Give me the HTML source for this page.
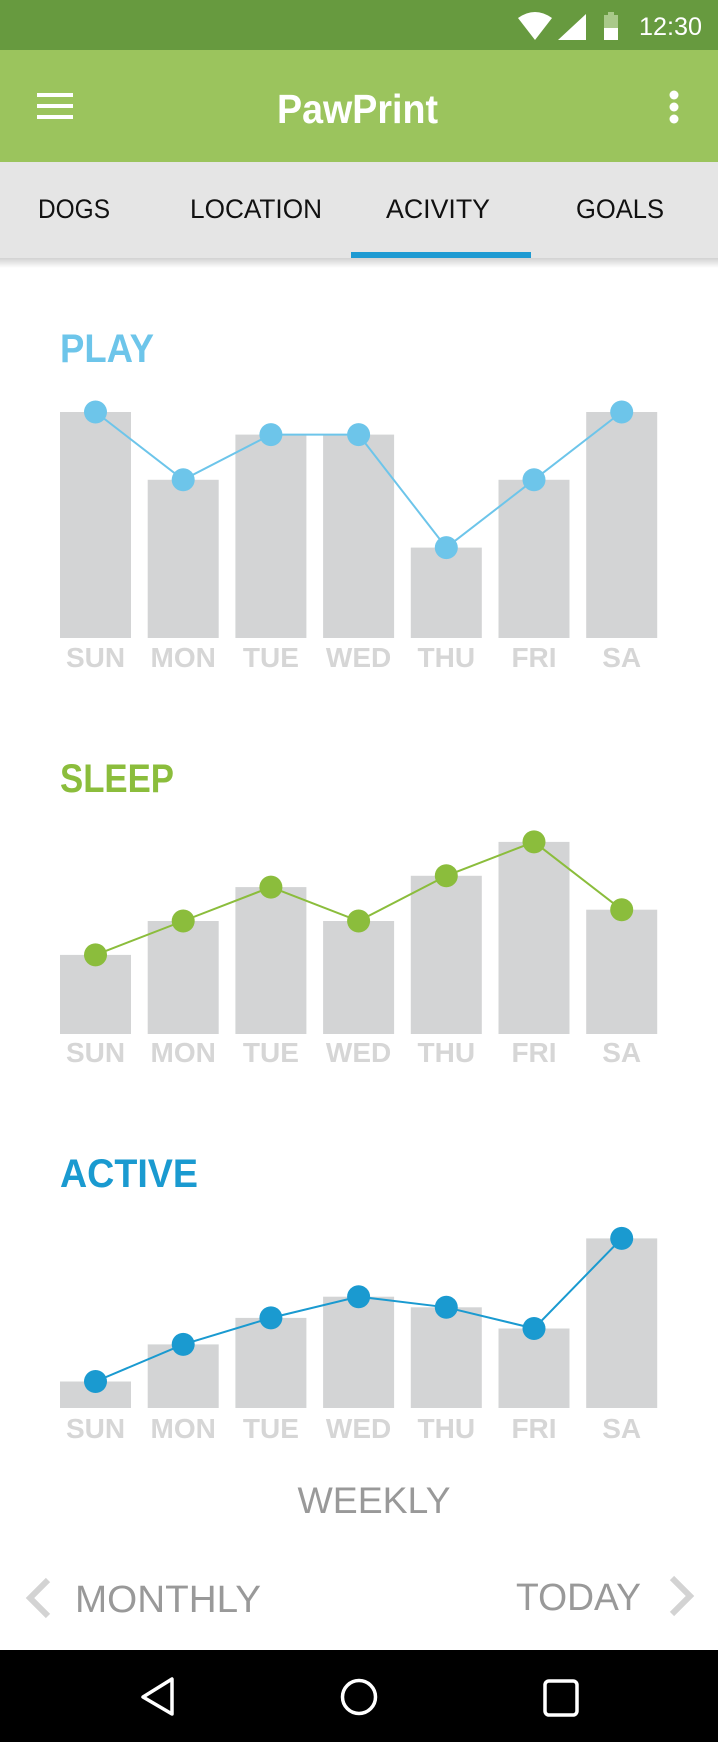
<!DOCTYPE html>
<html><head><meta charset="utf-8"><style>
html,body{margin:0;padding:0;background:#fff;}
svg{display:block;font-family:"Liberation Sans",sans-serif;}
</style></head><body>
<svg id="root" width="718" height="1742" viewBox="0 0 718 1742">
  <defs>
    <linearGradient id="sh" x1="0" y1="0" x2="0" y2="1"><stop offset="0" stop-color="#000" stop-opacity="0.18"/><stop offset="1" stop-color="#000" stop-opacity="0"/></linearGradient>
  </defs>
  <rect x="0" y="0" width="718" height="50" fill="#679a3f"/>
  <g>
    <path d="M518 18 Q535 6 552 18 L535 40 Z" fill="#fff"/>
    <path d="M586 14 L586 40 L558 40 Z" fill="#fff"/>
    <rect x="604" y="15" width="14" height="25" fill="#a9c98a"/>
    <rect x="604" y="28" width="14" height="12" fill="#fff"/>
    <rect x="608" y="12" width="6" height="3" fill="#a9c98a"/>
    <text x="639" y="35" font-size="25" fill="#fff" textLength="63" lengthAdjust="spacingAndGlyphs">12:30</text>
  </g>
  <rect x="0" y="50" width="718" height="112" fill="#9bc45d"/>
  <g>
    <rect x="37" y="93" width="36" height="4" fill="#fff"/><rect x="37" y="104" width="36" height="4" fill="#fff"/><rect x="37" y="115" width="36" height="4" fill="#fff"/>
  </g>
  <text x="277" y="123" font-size="41" font-weight="bold" fill="#fff" textLength="161" lengthAdjust="spacingAndGlyphs">PawPrint</text>
  <g>
    <circle cx="674" cy="95" r="4.5" fill="#fff"/><circle cx="674" cy="107" r="4.5" fill="#fff"/><circle cx="674" cy="119" r="4.5" fill="#fff"/>
  </g>
  <rect x="0" y="162" width="718" height="96" fill="#e5e5e5"/>
  <rect x="0" y="258" width="718" height="10" fill="url(#sh)"/>
  <text x="38" y="218" font-size="27" fill="#111" textLength="72" lengthAdjust="spacingAndGlyphs">DOGS</text>
  <text x="190" y="218" font-size="27" fill="#111" textLength="132" lengthAdjust="spacingAndGlyphs">LOCATION</text>
  <text x="386" y="218" font-size="27" fill="#111" textLength="104" lengthAdjust="spacingAndGlyphs">ACIVITY</text>
  <text x="576" y="218" font-size="27" fill="#111" textLength="88" lengthAdjust="spacingAndGlyphs">GOALS</text>
  <rect x="351" y="252" width="180" height="6" fill="#1e9ad2"/>
  <g id="charts"></g>
  <text x="374" y="1513" font-size="37" fill="#999" text-anchor="middle" textLength="153" lengthAdjust="spacingAndGlyphs">WEEKLY</text>
  <path d="M48 1580 L30 1598 L48 1616" fill="none" stroke="#d3d3d3" stroke-width="6"/>
  <text x="75" y="1612" font-size="38" fill="#999" textLength="186" lengthAdjust="spacingAndGlyphs">MONTHLY</text>
  <text x="516" y="1610" font-size="38" fill="#999" textLength="125" lengthAdjust="spacingAndGlyphs">TODAY</text>
  <path d="M672 1578 L690 1596 L672 1614" fill="none" stroke="#d3d3d3" stroke-width="6"/>
  <rect x="0" y="1650" width="718" height="92" fill="#000"/>
  <path d="M172 1679 L172 1714 L143 1697 Z" fill="none" stroke="#fff" stroke-width="3.5" stroke-linejoin="round"/>
  <ellipse cx="359" cy="1697" rx="16.5" ry="16.5" fill="none" stroke="#fff" stroke-width="3.5"/>
  <rect x="545" y="1681" width="32" height="34" rx="4" fill="none" stroke="#fff" stroke-width="3.5"/>
</svg>
<script>
const days = ["SUN","MON","TUE","WED","THU","FRI","SA"];
const playValues = [10,7,9,9,4,7,10];
const sleepValues = [7,10,13,10,14,17,11];
const activeValues = [5,12,17,21,19,15,32];
const chartTitles = ["PLAY","SLEEP","ACTIVE"];

const NS = "http://www.w3.org/2000/svg";
const charts = [
  {name:"play", title:chartTitles[0], vals:playValues, color:"#6dc5ea", bottom:638, unit:22.6, titleY:362, titleW:94, labelY:667},
  {name:"sleep", title:chartTitles[1], vals:sleepValues, color:"#8bbd3c", bottom:1034, unit:11.3, titleY:792, titleW:114, labelY:1062},
  {name:"active", title:chartTitles[2], vals:activeValues, color:"#1a9ad0", bottom:1408, unit:5.3, titleY:1187, titleW:138, labelY:1438}
];
function mk(tag, attrs, parent){const e=document.createElementNS(NS,tag);for(const k in attrs)e.setAttribute(k,attrs[k]);parent.appendChild(e);return e;}
const host = document.getElementById("charts");
charts.forEach(c=>{
  const g = mk("g",{},host);
  
  
  const xs = i => 60 + i*87.7;
  const ys = v => c.bottom - v*c.unit;
  const t = mk("text",{x:60,y:c.titleY,"font-size":40,"font-weight":"bold",fill:c.color,textLength:c.titleW,lengthAdjust:"spacingAndGlyphs"},g);
  t.textContent = c.title;
  
  
  c.vals.forEach((v,i)=>{
    const b = mk("rect",{x:xs(i),y:ys(v),width:71,height:v*c.unit,fill:"#d3d4d5"},g);
    
    
    const l = mk("text",{x:xs(i)+35.5,y:c.labelY,"font-size":28,"font-weight":"bold",fill:"#d6d6d6","text-anchor":"middle"},g);
    l.textContent = days[i];
    
    
  });
  const pts = c.vals.map((v,i)=>(xs(i)+35.5)+","+ys(v)).join(" ");
  const line = mk("polyline",{points:pts,fill:"none",stroke:c.color,"stroke-width":2},g);
  
  
  c.vals.forEach((v,i)=>{
    const d = mk("circle",{cx:xs(i)+35.5,cy:ys(v),r:11.5,fill:c.color},g);
    
    
  });
});
</script>
</body></html>
